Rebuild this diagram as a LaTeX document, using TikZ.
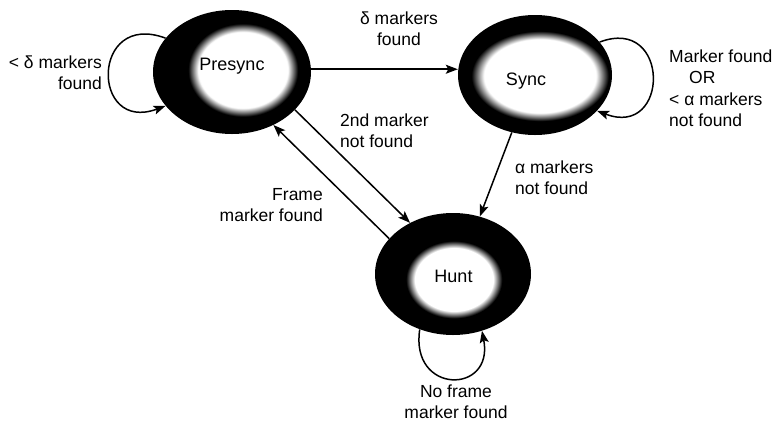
\documentclass[tikz,border=0pt]{standalone}
\usepackage{fontspec}
\setmainfont{Liberation Sans}
\usetikzlibrary{shapes.geometric, arrows.meta}

% white core fading into the black ring of each state
\pgfdeclareradialshading{stateglow}{\pgfpoint{0bp}{0bp}}{%
  color(0bp)=(white); color(20bp)=(white); color(24.5bp)=(black); color(50bp)=(black)}

\begin{document}
\begin{tikzpicture}[x=1pt, y=-1pt,
  ring/.style={ellipse, fill=black, inner sep=0pt},
  core/.style={ellipse, shading=stateglow, inner sep=0pt},
  statename/.style={font=\fontsize{18}{21.5}\selectfont, anchor=base, inner sep=0pt},
  lbl/.style={font=\fontsize{17.5}{21.5}\selectfont, inner sep=0pt},
  flow/.style={line width=1.5pt, -{Stealth[length=12pt, width=9pt, inset=2.5pt]}}
]
\useasboundingbox (0,0) rectangle (780,424);

% states
\node[ring, minimum width=158pt, minimum height=124pt] (pre) at (232,72) {};
\node[core, minimum width=112pt, minimum height=95pt] (preCore) at (243,70) {};
\node[statename] (preName) at (232,70) {Presync};

\node[ring, minimum width=154pt, minimum height=120pt] (sync) at (535,75) {};
\node[core, minimum width=140pt, minimum height=92pt] (syncCore) at (540,76) {};
\node[statename] (syncName) at (526,85) {Sync};

\node[ring, minimum width=156pt, minimum height=122pt] (hunt) at (453,274) {};
\node[core, minimum width=98pt, minimum height=79pt] (huntCore) at (454,279.5) {};
\node[statename] (huntName) at (453.5,282) {Hunt};

% transitions
\draw[flow] (pre.2) -- (pre.2 -| sync.west);
\draw[flow] (pre.-31) -- (hunt.130);
\draw[flow] (hunt.151) -- (pre.-52.5);
\draw[flow] (sync.-112.6) -- (hunt.65);

% self loops
\draw[flow] (pre.153) .. controls +(-75,-28) and +(-75,28) .. (pre.207);
\draw[flow] (sync.27) .. controls +(71,-27) and +(73,28) .. (sync.-30);
\draw[flow] (hunt.-121) .. controls +(-10,65.5) and +(12.5,64) .. (hunt.-63);

% transition labels
\node[lbl, align=right, anchor=south east] (lPreLoop) at (102,90) {< δ markers\\found};
\node[lbl, align=center, anchor=south] (lPreSync) at (399,46) {δ markers\\found};
\node[lbl, align=left, anchor=south west] (lSyncLoop) at (669,127)
  {Marker found\\\hspace*{20pt}OR\\< α markers\\not found};
\node[lbl, align=left, anchor=south west] (lPreHunt) at (340,148) {2nd marker\\not found};
\node[lbl, align=right, anchor=south east] (lHuntPre) at (323,222) {Frame\\marker found};
\node[lbl, align=left, anchor=south west] (lSyncHunt) at (515,195) {α markers\\not found};
\node[lbl, align=center, anchor=south] (lHuntLoop) at (456,419) {No frame\\marker found};
\end{tikzpicture}
\end{document}
